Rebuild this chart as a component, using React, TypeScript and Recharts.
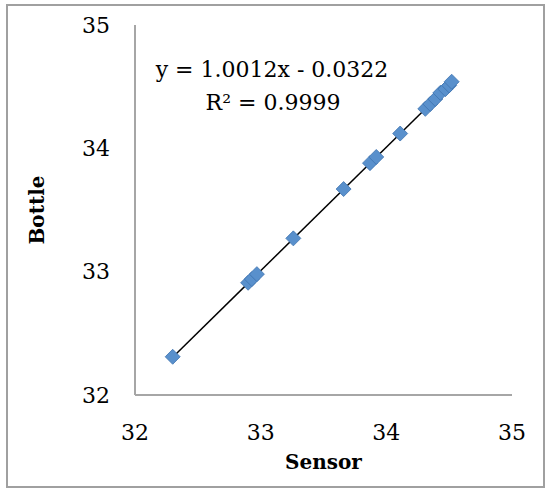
import { ScatterChart, Scatter, XAxis, YAxis, ReferenceLine, Customized } from "recharts";

const sensor = [32.3, 32.9, 32.93, 32.97, 33.26, 33.66, 33.87, 33.92, 34.11, 34.31, 34.35, 34.39, 34.43, 34.47, 34.5, 34.52];
const bottle = [32.31, 32.91, 32.94, 32.98, 33.27, 33.67, 33.88, 33.93, 34.12, 34.32, 34.36, 34.4, 34.45, 34.48, 34.51, 34.54];
const axisTicks = [32, 33, 34, 35];

// trendline as printed on the chart
const slope = 1.0012;
const intercept = -0.0322;

const points = sensor.map((x, i) => ({ x, y: bottle[i] }));
const xMin = Math.min(...sensor);
const xMax = Math.max(...sensor);
const trend = [
  { x: xMin, y: slope * xMin + intercept },
  { x: xMax, y: slope * xMax + intercept },
];

const FONT = "'DejaVu Serif', serif";
const AXIS = "#a6a6a6";

const Diamond = (props: any) => {
  const { cx, cy } = props;
  const r = 7.5;
  return (
    <polygon
      points={`${cx},${cy - r} ${cx + r},${cy} ${cx},${cy + r} ${cx - r},${cy}`}
      fill="#5990cc"
      stroke="#3f74b0"
      strokeWidth={0.8}
    />
  );
};

const Equation = () => (
  <g fontFamily={FONT} fontSize={22} fill="#000" textAnchor="middle">
    <text x={272} y={77}>y = 1.0012x - 0.0322</text>
    <text x={273} y={110}>R² = 0.9999</text>
  </g>
);

export default function App() {
  return (
    <div style={{ position: "fixed", left: 0, top: 0, width: 549, height: 491, background: "#fff" }}>
      <div
        style={{
          position: "absolute",
          left: 6,
          top: 4,
          width: 539,
          height: 484,
          border: "2px solid #a0a0a0",
          boxSizing: "border-box",
        }}
      />
      <ScatterChart
        width={549}
        height={491}
        margin={{ top: 25, right: 37, bottom: 0, left: 75 }}
        style={{ position: "absolute", left: 0, top: 0 }}
      >
        <XAxis
          type="number"
          dataKey="x"
          domain={[32, 35]}
          ticks={axisTicks}
          interval={0}
          height={96}
          axisLine={{ stroke: AXIS, strokeWidth: 2 }}
          tickLine={false}
          tickMargin={23}
          tick={{ fontFamily: FONT, fontSize: 22, fill: "#000" }}
          label={{
            value: "Sensor",
            position: "insideBottom",
            offset: 22,
            style: { fontFamily: FONT, fontSize: 20, fontWeight: "bold", fill: "#000" },
          }}
        />
        <YAxis
          type="number"
          dataKey="y"
          domain={[32, 35]}
          ticks={axisTicks}
          interval={0}
          width={60}
          axisLine={{ stroke: AXIS, strokeWidth: 2 }}
          tickLine={false}
          tickMargin={19}
          tick={{ fontFamily: FONT, fontSize: 22, fill: "#000" }}
          label={{
            value: "Bottle",
            angle: -90,
            position: "insideLeft",
            offset: -38,
            style: { fontFamily: FONT, fontSize: 20, fontWeight: "bold", fill: "#000", textAnchor: "middle" },
          }}
        />
        <Scatter data={points} shape={<Diamond />} isAnimationActive={false} />
        <ReferenceLine
          segment={trend}
          stroke="#000"
          strokeWidth={1.5}
          ifOverflow="visible"
        />
        <Customized component={Equation} />
      </ScatterChart>
    </div>
  );
}
